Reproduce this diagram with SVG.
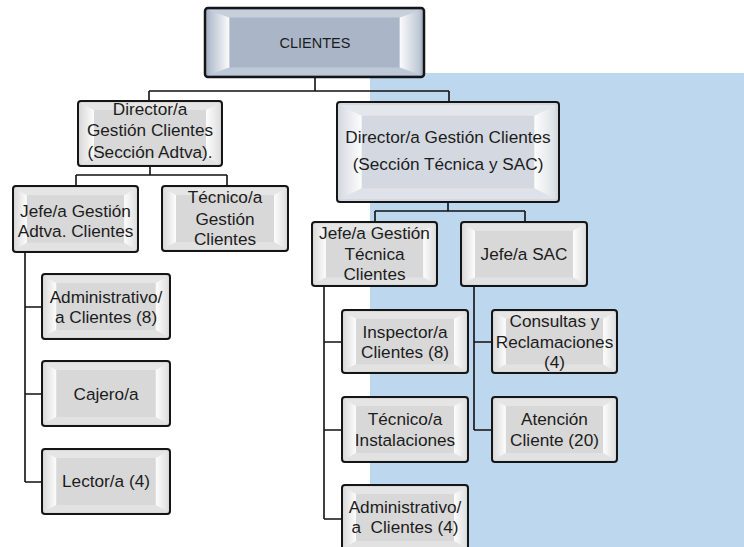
<svg xmlns="http://www.w3.org/2000/svg" xmlns:xlink="http://www.w3.org/1999/xlink" width="744" height="547" viewBox="0 0 744 547">
<style>
.box{fill:#D8D8D8;stroke:#151515;stroke-width:2}
.boxb{fill:#AAB6C8;stroke:#151515;stroke-width:2.5}
.boxl{fill:#D4D9E1;stroke:#151515;stroke-width:2}
.t{font-family:"Liberation Sans",Arial,sans-serif;font-size:17.2px;fill:#1c1c1c;text-anchor:middle}
.conn{fill:none;stroke:#111;stroke-width:1.6}
</style>
<defs>
<linearGradient id="gl" x1="0" y1="0" x2="1" y2="0">
<stop offset="0" stop-color="#fff" stop-opacity="0.1"/>
<stop offset="1" stop-color="#fff" stop-opacity="0.95"/>
</linearGradient>
<linearGradient id="gr" x1="0" y1="0" x2="1" y2="0">
<stop offset="0" stop-color="#fff" stop-opacity="0.95"/>
<stop offset="1" stop-color="#fff" stop-opacity="0.2"/>
</linearGradient>
<symbol id="bev" viewBox="0 0 126 65" preserveAspectRatio="none">
<polygon points="2,2 124,2 112,9 14,9" fill="#fff" fill-opacity="0.35"/>
<polygon points="2,63 124,63 112,56 14,56" fill="#fff" fill-opacity="0.25"/>
<polygon points="2,2 14,9 14,56 2,63" fill="url(#gl)"/>
<polygon points="124,2 112,9 112,56 124,63" fill="url(#gr)"/>
</symbol>
</defs>
<rect x="0" y="0" width="744" height="547" fill="#fff"/>
<rect x="370" y="73" width="374" height="474" fill="#BDD7EE"/>
<g id="connectors">
<path class="conn" d="M315,77 V91 M149,91 H449 M149,91 V101 M449,91 V102"/>
<path class="conn" d="M150,166 V175 M76,175 H227 M76,175 V186 M227,175 V186"/>
<path class="conn" d="M25,252 V482 M25,307 H42 M25,394 H42 M25,482 H42"/>
<path class="conn" d="M448,202 V211 M375,211 H525 M375,211 V222 M525,211 V222"/>
<path class="conn" d="M324,286 V519 M324,342 H342 M324,430 H342 M324,519 H342"/>
<path class="conn" d="M474,286 V430 M474,342 H492 M474,430 H492"/>
</g>
<g id="clientes">
<rect class="boxb" x="205" y="8" width="219" height="69" rx="3"/>
<use xlink:href="#bev" href="#bev" x="205" y="8" width="219" height="69"/>
<text class="t" x="315" y="48" style="font-size:14.5px">CLIENTES</text>
</g>
<g id="dir-adtva">
<rect class="box" x="78" y="101" width="144" height="65" rx="3"/>
<use href="#bev" x="78" y="101" width="144" height="65"/>
<text class="t" x="150" y="115">Director/a</text>
<text class="t" x="150" y="136">Gestión Clientes</text>
<text class="t" x="150" y="158">(Sección Adtva).</text>
</g>
<g id="dir-tec">
<rect class="boxl" x="337" y="102" width="222" height="100" rx="3"/>
<use href="#bev" x="337" y="102" width="222" height="100"/>
<text class="t" x="448" y="143">Director/a Gestión Clientes</text>
<text class="t" x="448" y="170">(Sección Técnica y SAC)</text>
</g>
<g id="jefe-adtva">
<rect class="box" x="13" y="186" width="125" height="66" rx="3"/>
<use href="#bev" x="13" y="186" width="125" height="66"/>
<text class="t" x="75.5" y="217">Jefe/a Gestión</text>
<text class="t" x="75.5" y="237">Adtva. Clientes</text>
</g>
<g id="tec-gestion">
<rect class="box" x="162" y="186" width="126" height="65" rx="3"/>
<use href="#bev" x="162" y="186" width="126" height="65"/>
<text class="t" x="225" y="203">Técnico/a</text>
<text class="t" x="225" y="225">Gestión</text>
<text class="t" x="225" y="245">Clientes</text>
</g>
<g id="admin8">
<rect class="box" x="42" y="274" width="128" height="65" rx="3"/>
<use href="#bev" x="42" y="274" width="128" height="65"/>
<text class="t" x="106" y="303">Administrativo/</text>
<text class="t" x="106" y="323">a Clientes (8)</text>
</g>
<g id="cajero">
<rect class="box" x="42" y="361" width="128" height="65" rx="3"/>
<use href="#bev" x="42" y="361" width="128" height="65"/>
<text class="t" x="106" y="400">Cajero/a</text>
</g>
<g id="lector">
<rect class="box" x="42" y="449" width="128" height="65" rx="3"/>
<use href="#bev" x="42" y="449" width="128" height="65"/>
<text class="t" x="106" y="487">Lector/a (4)</text>
</g>
<g id="jefe-tec">
<rect class="box" x="312" y="222" width="125" height="64" rx="3"/>
<use href="#bev" x="312" y="222" width="125" height="64"/>
<text class="t" x="374.5" y="239">Jefe/a Gestión</text>
<text class="t" x="374.5" y="260">Técnica</text>
<text class="t" x="374.5" y="280">Clientes</text>
</g>
<g id="jefe-sac">
<rect class="box" x="461" y="222" width="126" height="64" rx="3"/>
<use href="#bev" x="461" y="222" width="126" height="64"/>
<text class="t" x="524" y="260">Jefe/a SAC</text>
</g>
<g id="inspector">
<rect class="box" x="342" y="310" width="126" height="63" rx="3"/>
<use href="#bev" x="342" y="310" width="126" height="63"/>
<text class="t" x="405" y="338">Inspector/a</text>
<text class="t" x="405" y="358">Clientes (8)</text>
</g>
<g id="tec-inst">
<rect class="box" x="342" y="397" width="126" height="65" rx="3"/>
<use href="#bev" x="342" y="397" width="126" height="65"/>
<text class="t" x="405" y="425">Técnico/a</text>
<text class="t" x="405" y="446">Instalaciones</text>
</g>
<g id="admin4">
<rect class="box" x="342" y="485" width="126" height="65" rx="3"/>
<use href="#bev" x="342" y="485" width="126" height="65"/>
<text class="t" x="405" y="513">Administrativo/</text>
<text class="t" x="405" y="533" xml:space="preserve">a  Clientes (4)</text>
</g>
<g id="consultas">
<rect class="box" x="492" y="310" width="125" height="63" rx="3"/>
<use href="#bev" x="492" y="310" width="125" height="63"/>
<text class="t" x="554.5" y="327">Consultas y</text>
<text class="t" x="554.5" y="348">Reclamaciones</text>
<text class="t" x="554.5" y="368">(4)</text>
</g>
<g id="atencion">
<rect class="box" x="492" y="397" width="125" height="65" rx="3"/>
<use href="#bev" x="492" y="397" width="125" height="65"/>
<text class="t" x="554.5" y="425">Atención</text>
<text class="t" x="554.5" y="446">Cliente (20)</text>
</g>
</svg>
